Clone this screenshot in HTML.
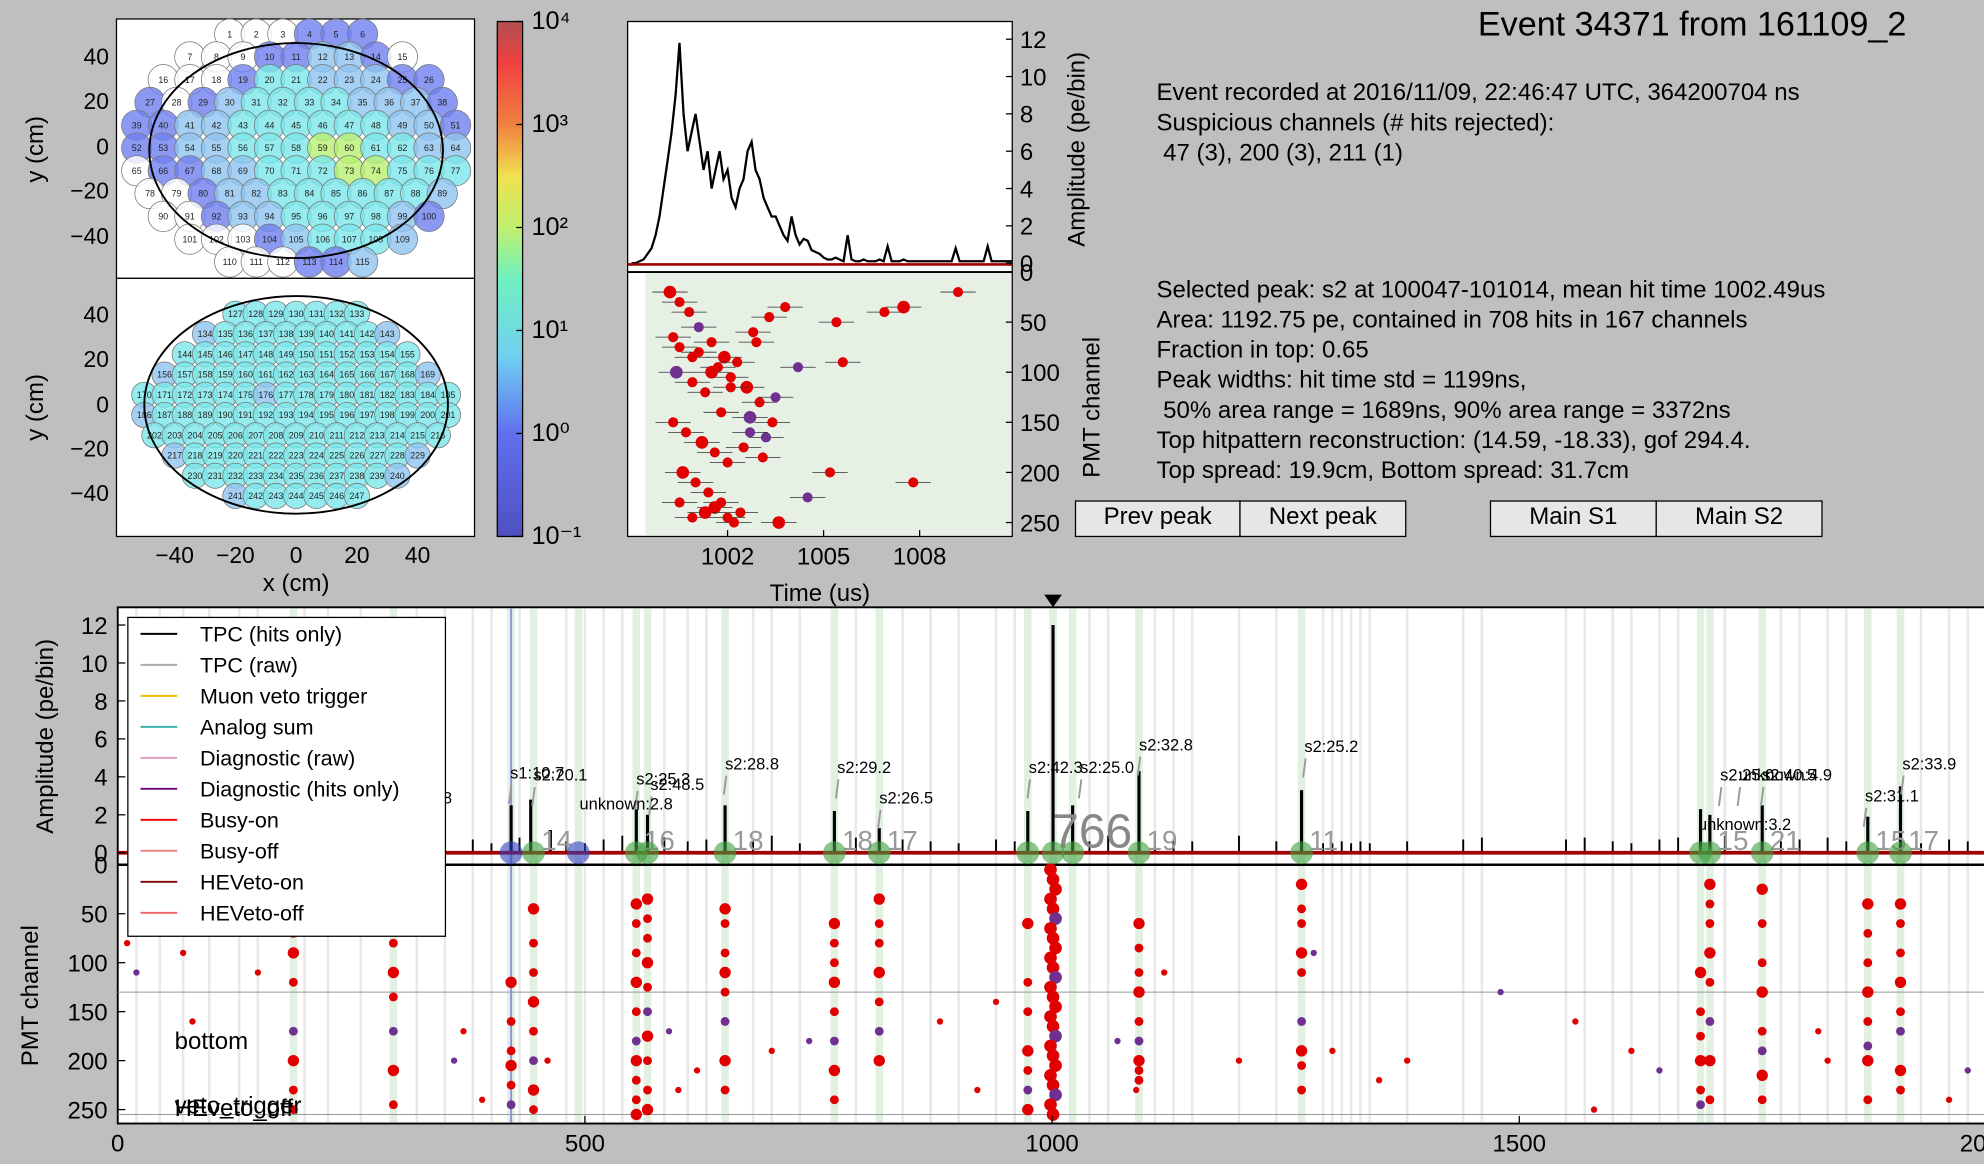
<!DOCTYPE html>
<html><head><meta charset="utf-8">
<style>
html,body{margin:0;padding:0;background:#bfbfbf;overflow:hidden}
svg{display:block;font-family:"Liberation Sans","DejaVu Sans",sans-serif}
</style></head>
<body>
<svg id="root" width="1984" height="1164" viewBox="0 0 1568 920" xmlns="http://www.w3.org/2000/svg">
<rect x="0" y="0" width="1568" height="920" fill="#bfbfbf"/>
<g id="g"></g>
</svg>
<script>
// ---------- DATA ----------
var mainPeakTimes = [188,295,421,442,463,555,567,650,767,815,974,1001,1022,1093,1267,1694,1704,1760,1873,1908];
var mainPeakAmps  = [1.5,1.5,2.5,2.8,1.2,2.3,2.0,2.5,2.2,1.3,2.2,12.0,2.5,4.3,3.3,2.3,2.0,2.5,1.9,3.5];
var peakLabelTimes = [174,300,420,445,555,570,650,770,815,975,1030,1093,1270,1715,1735,1760,1870,1910];
var peakLabelAmps  = [2.7,2.6,3.9,3.8,3.6,3.3,4.4,4.2,2.6,4.2,4.2,5.4,5.3,3.8,3.8,3.8,2.7,4.4];
var peakLabels = ["s2:24.7","s2:48.8","s1:10.7","s2:20.1","s2:25.3","s2:48.5","s2:28.8","s2:29.2","s2:26.5","s2:42.3","s2:25.0","s2:32.8","s2:25.2","s2:25.0","unknown:4.9","s2:40.5","s2:31.1","s2:33.9"];
var smallSpikeTimes = [20,45,70,98,130,150,200,225,260,320,350,380,400,430,480,500,520,540,585,610,630,680,700,730,790,840,870,900,940,960,1040,1060,1110,1130,1150,1200,1240,1290,1300,1310,1320,1330,1340,1380,1440,1460,1550,1570,1600,1620,1650,1670,1720,1780,1800,1830,1850,1930,1960,1980];
var smallSpikeAmps  = [0.5,0.6,0.4,0.5,0.6,0.5,0.7,0.5,0.6,0.5,0.6,0.7,0.5,0.8,0.6,0.5,0.7,0.9,0.8,0.6,0.7,0.6,0.9,0.5,0.8,0.7,0.6,0.5,0.7,0.6,0.6,0.9,0.8,0.7,0.6,0.9,0.6,0.5,0.5,0.6,0.5,0.6,0.5,0.6,0.7,0.8,0.7,0.8,0.6,0.5,0.7,0.8,0.9,0.6,0.7,0.8,0.6,0.5,0.7,0.6];
var peakCircleTimes = [188,295,421,445,493,555,567,650,767,815,974,1001,1022,1093,1267,1694,1704,1760,1873,1908];
var hitColumnTimes = [188,295,421,445,555,567,650,767,815,974,1001,1093,1267,1694,1704,1760,1873,1908];
var hitColumnChannels = [
 "30,55,70,90,120,170,200,230,250",
 "40,55,80,110,135,170,210,245",
 "120,160,190,205,225,245",
 "45,80,110,140,170,200,230,250",
 "40,60,90,120,150,180,200,220,240,255",
 "35,55,75,100,125,150,175,200,230,250",
 "45,60,90,110,130,160,200,230",
 "60,80,100,120,150,180,210,240",
 "35,60,80,110,140,170,200",
 "60,120,150,190,210,230,250",
 "5,15,25,35,45,55,65,75,85,95,105,115,125,135,145,155,165,175,185,195,205,215,225,235,245,255",
 "60,85,110,130,160,180,200,210,220",
 "20,45,60,90,110,160,190,205,230",
 "110,150,175,200,230,245",
 "20,40,60,90,120,160,200,240",
 "25,60,100,130,170,190,215,240",
 "40,70,100,130,160,185,200,240",
 "40,60,90,120,150,170,210,230"];
var scatterTimes = [10,20,70,80,150,360,370,390,460,590,600,620,700,740,880,920,940,1070,1090,1120,1200,1280,1300,1350,1380,1480,1560,1580,1620,1650,1820,1830,1960,1980];
var scatterChannels = [80,110,90,160,110,200,170,240,200,170,230,210,190,180,160,230,140,180,230,110,200,90,190,220,200,130,160,250,190,210,170,200,240,210];
// zoom waveform (t from 999.0 step 0.125us)
var zoomWave = [0,0,0.1,0.2,0.5,0.8,1.5,2.5,4,5.5,7,9,11.8,8,6,7,8,6.5,5,6,4,5,6,4.5,5,3.5,3,4,4.5,6,6.5,5,4.5,3.5,3,2.5,2.5,2,1.5,1.2,2.5,1.5,1,1.3,1.2,0.7,0.6,0.5,0.3,0.2,0.2,0.3,0.2,0.1,1.5,0.2,0.1,0.1,0.2,0.1,0.1,0.1,0.2,0.1,0.9,0.1,0.1,0.1,0.2,0.1,0.1,0.1,0.1,0.1,0.1,0.1,0.1,0.1,0.1,0.1,0.1,0.8,0.1,0.1,0.1,0.1,0.1,0.1,0.1,0.9,0.1,0.1,0.1,0.1,0.1,0.1];
var zoomHitTimes = [1000.2,1000.5,1000.8,1001.1,1001.5,1001.9,1002.3,1002.8,1003.3,1003.8,1000.4,1000.9,1001.3,1001.7,1002.1,1002.6,1003.0,1003.5,1000.3,1000.7,1001.2,1001.6,1002.0,1002.5,1003.2,1000.6,1001.0,1001.4,1001.8,1002.4,1003.6,1004.2,1005.4,1005.6,1006.9,1007.5,1009.2,1007.8,1004.5,1000.9,1001.6,1002.2,1000.5,1001.1,1001.8,1002.7,1003.4,1005.2,1000.3,1000.9,1001.5,1002.1,1002.7,1003.1,1000.5,1001.3,1002.0,1002.9];
var zoomHitChannels = [20,30,40,55,70,85,90,60,45,35,100,110,120,95,105,115,130,125,150,160,170,180,190,175,165,200,210,220,230,240,250,95,50,90,40,35,20,210,225,245,235,250,75,80,140,145,150,200,65,85,100,115,160,185,230,240,245,70];
var colorbarTicks = ["10\u207b\u00b9","10\u2070","10\u00b9","10\u00b2","10\u00b3","10\u2074"];
var topRows = ["000111","000112210","00013322211","101233332221","1122333333221","1122333443322","0112233344333","001223333332","00122333321","000123332","000112"];
var botRows = ["3333333","2333333332","333333333333","23333333333332","3333332333333333","2333333333333333","333333333333333","2333333333332","33333333332","2333333"];
var hpColors = ["#ffffff","#6f7ff0","#8fc4f0","#7ae6e8","#b8f070"];

// ---------- helpers ----------
var NS="http://www.w3.org/2000/svg", G=document.getElementById('g');
function mk(tag,at,parent){var e=document.createElementNS(NS,tag);for(var k in at)e.setAttribute(k,at[k]);(parent||G).appendChild(e);return e;}
function txt(x,y,s,size,anchor,fill){var e=mk('text',{x:x,y:y,'font-size':size,'text-anchor':anchor||'start',fill:fill||'#000'});e.textContent=s;return e;}

var MX0=93, MXS=(1570-93)/2000;
function mx(t){return MX0+t*MXS;}
function my(a){return 674-a*15;}
function mc(c){return 683.5+c*0.774;}
function zx(t){return 575+(t-1002)*25.3;}
function zy(a){return 208-a*14.75;}
function zc(c){return 215+c*0.792;}

// ---------- top-left hitpatterns ----------
var p1=mk('rect',{x:92,y:15,width:283,height:205,fill:'#fff',stroke:'#000'});

var p2=mk('rect',{x:92,y:220,width:283,height:204,fill:'#fff',stroke:'#000'});

function drawPattern(rows,cy,r,sp,vsp,name,labBase){
  var n=labBase;
  for(var i=0;i<rows.length;i++){
    var row=rows[i],y=cy+(i-(rows.length-1)/2)*vsp;
    for(var j=0;j<row.length;j++){
      var x=234+(j-(row.length-1)/2)*sp;
      var c=mk('circle',{cx:x,cy:y,r:r,fill:hpColors[+row[j]],stroke:'#777','stroke-width':0.6,'fill-opacity':0.8});
      
      txt(x,y+2.5,String(n++),7,'middle','#222');
    }
  }
}
drawPattern(topRows,117,12,21,18,'top-pmt',1);
drawPattern(botRows,320,10,16,16,'bottom-pmt',127);
var e1=mk('ellipse',{cx:234,cy:119,rx:116,ry:85,fill:'none',stroke:'#000','stroke-width':1.5});

var e2=mk('ellipse',{cx:234,cy:320,rx:120,ry:86,fill:'none',stroke:'#000','stroke-width':1.5});

[[40,45],[20,80],[0,116],[-20,151],[-40,187]].forEach(function(p){txt(86,p[1]+6,(p[0]<0?'\u2212'+(-p[0]):p[0]),18,'end');});
[[40,249],[20,284],[0,320],[-20,355],[-40,390]].forEach(function(p){txt(86,p[1]+6,(p[0]<0?'\u2212'+(-p[0]):p[0]),18,'end');});
[-40,-20,0,20,40].forEach(function(v){txt(234+v*2.4,445,(v<0?'\u2212'+(-v):v),18,'middle');});
var yl=txt(0,0,'y (cm)',19,'middle');yl.setAttribute('transform','translate(34,118) rotate(-90)');
var yl2=txt(0,0,'y (cm)',19,'middle');yl2.setAttribute('transform','translate(34,322) rotate(-90)');
txt(234,467,'x (cm)',19,'middle');

// colorbar
var defs=mk('defs',{});var lg=mk('linearGradient',{id:'jet',x1:0,y1:1,x2:0,y2:0},defs);
[["0","#5050c0"],["0.2","#6070f0"],["0.35","#70d0f0"],["0.5","#70f0c0"],["0.6","#c0f070"],["0.7","#f0e050"],["0.8","#f08040"],["0.92","#f04040"],["1","#b05050"]].forEach(function(s){mk('stop',{offset:s[0],'stop-color':s[1]},lg);});
var cb=mk('rect',{x:393,y:17,width:20,height:407,fill:'url(#jet)',stroke:'#000'});

colorbarTicks.forEach(function(s,i){var y=424-i*81.4;mk('line',{x1:413,x2:408,y1:y,y2:y,stroke:'#000'});txt(420,y+6,s,20);});

// ---------- zoom panel ----------
var zp=mk('rect',{x:496,y:17,width:304,height:198,fill:'#fff',stroke:'#000'});

var zb=mk('rect',{x:496,y:215,width:304,height:209,fill:'#fff',stroke:'#000'});

mk('rect',{x:510,y:216,width:289,height:207,fill:'#e6f0e4'});
var zpts=zoomWave.map(function(a,i){return zx(999+i*0.125).toFixed(1)+','+zy(a).toFixed(1);}).join(' ');
var zw=mk('polyline',{points:zpts,fill:'none',stroke:'#000','stroke-width':1.8});

mk('line',{x1:496,x2:800,y1:209,y2:209,stroke:'#a00000','stroke-width':2});
mk('line',{x1:496,x2:800,y1:215,y2:215,stroke:'#000','stroke-width':1.5});
zoomHitTimes.forEach(function(t,i){
  var x=zx(t),y=zc(zoomHitChannels[i]);
  mk('line',{x1:x-14,x2:x+14,y1:y,y2:y,stroke:'#333','stroke-width':0.6});
  var d=mk('circle',{cx:x,cy:y,r:(i%5==0?5:4),fill:(i%7==3?'#703090':'#e00000')});
  
});
[0,2,4,6,8,10,12].forEach(function(v){var y=zy(v);mk('line',{x1:800,x2:795,y1:y,y2:y,stroke:'#000'});txt(806,y+7,v,19);});
[0,50,100,150,200,250].forEach(function(v){var y=zc(v);mk('line',{x1:800,x2:795,y1:y,y2:y,stroke:'#000'});txt(806,y+7,v,19);});
[1002,1005,1008].forEach(function(v){var x=zx(v);mk('line',{x1:x,x2:x,y1:424,y2:419,stroke:'#000'});txt(x,446,v,19,'middle');});
txt(648,475,'Time (us)',19,'middle');
var za=txt(0,0,'Amplitude (pe/bin)',19,'middle');za.setAttribute('transform','translate(857,118) rotate(-90)');
var zcl=txt(0,0,'PMT channel',19,'middle');zcl.setAttribute('transform','translate(869,322) rotate(-90)');

// ---------- text block ----------
var title=txt(1168,28,'Event 34371 from 161109_2',27);
["Event recorded at 2016/11/09, 22:46:47 UTC, 364200704 ns","Suspicious channels (# hits rejected):","\u00a047 (3), 200 (3), 211 (1)"].forEach(function(s,i){txt(914,79+i*24,s,19);});
["Selected peak: s2 at 100047-101014, mean hit time 1002.49us","Area: 1192.75 pe, contained in 708 hits in 167 channels","Fraction in top: 0.65","Peak widths: hit time std = 1199ns,","\u00a050% area range = 1689ns, 90% area range = 3372ns","Top hitpattern reconstruction: (14.59, -18.33), gof 294.4.","Top spread: 19.9cm, Bottom spread: 31.7cm"].forEach(function(s,i){txt(914,235+i*23.8,s,19);});
function button(x,w,label,name){
  var b=mk('rect',{x:x,y:396,width:w,height:28,fill:'#e6e6e6',stroke:'#000'});
  
  txt(x+w/2,414,label,19,'middle');
}
button(850,130,'Prev peak','prev-peak-button');
button(980,131,'Next peak','next-peak-button');
button(1178,131,'Main S1','main-s1-button');
button(1309,131,'Main S2','main-s2-button');

// ---------- main plot ----------
var mp=mk('rect',{x:93,y:480,width:1490,height:408,fill:'#fff',stroke:'#000','stroke-width':1.5});

peakCircleTimes.forEach(function(t){mk('rect',{x:mx(t)-3,y:481,width:6,height:406,fill:'#cfe6cf','fill-opacity':0.6});});
smallSpikeTimes.forEach(function(t){mk('line',{x1:mx(t),x2:mx(t),y1:481,y2:887,stroke:'#e8e8e8','stroke-width':2});});
mk('line',{x1:mx(421),x2:mx(421),y1:481,y2:887,stroke:'#9090e0','stroke-width':1.5});
mk('line',{x1:93,x2:1568,y1:mc(130),y2:mc(130),stroke:'#999','stroke-width':0.8});
mk('line',{x1:93,x2:1568,y1:mc(255),y2:mc(255),stroke:'#999','stroke-width':0.8});
smallSpikeTimes.forEach(function(t,i){var s=mk('line',{x1:mx(t),x2:mx(t),y1:my(0),y2:my(smallSpikeAmps[i]),stroke:'#000','stroke-width':1.5});
  });
mainPeakTimes.forEach(function(t,i){var s=mk('line',{x1:mx(t),x2:mx(t),y1:my(0),y2:my(mainPeakAmps[i]),stroke:'#000','stroke-width':2.5});
  });
txt(mx(1000),670,'766',38,'start','#888');
[[188,'18'],[295,'16'],[445,'14'],[555,'16'],[650,'18'],[767,'18'],[815,'17'],[1093,'19'],[1267,'11'],[1704,'15'],[1760,'21'],[1873,'15'],[1908,'17']].forEach(function(p){txt(mx(p[0])+6,672,p[1],22,'start','#999');});
mk('line',{x1:93,x2:1568,y1:my(0),y2:my(0),stroke:'#a00000','stroke-width':3});
mk('line',{x1:93,x2:1568,y1:683.5,y2:683.5,stroke:'#000','stroke-width':2});
peakCircleTimes.forEach(function(t,i){
  var c=mk('circle',{cx:mx(t),cy:my(0),r:9,fill:(t==421||t==493?'#3040c0':'#40a040'),'fill-opacity':0.6});
  
});
peakLabelTimes.forEach(function(t,i){
  var l=txt(mx(t),my(peakLabelAmps[i]),peakLabels[i],13);
  
  mk('line',{x1:mx(t)+1,x2:mx(t)-1,y1:my(peakLabelAmps[i])+5,y2:my(peakLabelAmps[i])+20,stroke:'#999','stroke-width':1.5});
});
txt(458,640,'unknown:2.8',13);txt(1342,656,'unknown:3.2',13);
mk('polygon',{points:(mx(1001)-7)+',470 '+(mx(1001)+7)+',470 '+mx(1001)+',480',fill:'#000'});
hitColumnTimes.forEach(function(t,i){
  hitColumnChannels[i].split(',').forEach(function(ch,j){
    var big=(t==1001);
    var d=mk('circle',{cx:mx(t)+(big?(j%3-1)*2:0),cy:mc(+ch),r:(big?5:(j%3==0?4.5:3.5)),fill:(j%6==5?'#703090':'#e00000')});
    
  });
});
scatterTimes.forEach(function(t,i){var d=mk('circle',{cx:mx(t),cy:mc(scatterChannels[i]),r:2.5,fill:(i%4==1?'#703090':'#e00000')});
  });
[0,2,4,6,8,10,12].forEach(function(v){var y=my(v);mk('line',{x1:93,x2:99,y1:y,y2:y,stroke:'#000'});txt(85,y+7,v,19,'end');});
[0,50,100,150,200,250].forEach(function(v){var y=mc(v);mk('line',{x1:93,x2:99,y1:y,y2:y,stroke:'#000'});txt(85,y+7,v,19,'end');});
[0,500,1000,1500,2000].forEach(function(v){var x=mx(v);mk('line',{x1:x,x2:x,y1:888,y2:882,stroke:'#000'});txt(x,910,v,19,'middle');});
var ma=txt(0,0,'Amplitude (pe/bin)',19,'middle');ma.setAttribute('transform','translate(42,582) rotate(-90)');
var mcl=txt(0,0,'PMT channel',19,'middle');mcl.setAttribute('transform','translate(30,787) rotate(-90)');
txt(138,734,'top',19,'start','#888');txt(138,829,'bottom',19);txt(138,880,'veto_trigger',19);txt(138,882,'HEveto_off',19);
var lgBox=mk('rect',{x:101,y:488,width:251,height:252,fill:'#fff',stroke:'#000'});

var legNames=["TPC (hits only)","TPC (raw)","Muon veto trigger","Analog sum","Diagnostic (raw)","Diagnostic (hits only)","Busy-on","Busy-off","HEVeto-on","HEVeto-off"];
var legCols=["#000","#aaa","#f0c000","#40b0b0","#e0a0c0","#700080","#f00000","#f08080","#800000","#f06060"];
legNames.forEach(function(n,i){var y=501+i*24.5;
  var l=mk('line',{x1:111,x2:140,y1:y,y2:y,stroke:legCols[i],'stroke-width':1.5});
  
  txt(158,y+6,n,17);});
</script>
</body></html>
